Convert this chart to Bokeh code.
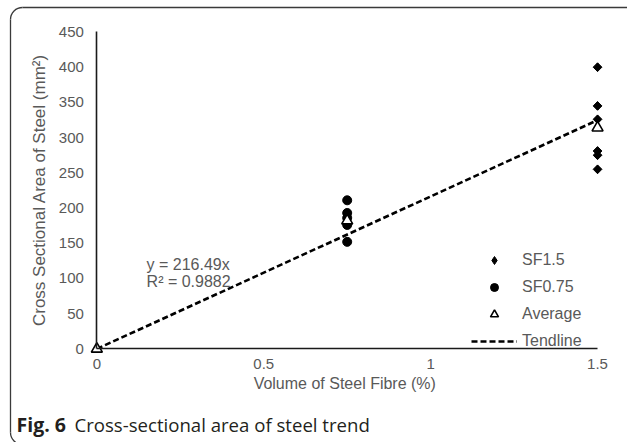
import math
from bokeh.plotting import figure
from bokeh.models import (Range1d, FixedTicker, Legend, LegendItem, Label,
                          ColumnDataSource)
from bokeh.embed import file_html
from bokeh.resources import INLINE

# ---- data ----
sf15_x = [1.5, 1.5, 1.5, 1.5, 1.5, 1.5]
sf15_y = [400, 345, 326, 281, 275, 255]
sf075_x = [0.75, 0.75, 0.75, 0.75, 0.75]
sf075_y = [211, 193, 186, 176, 152]
avg_x = [0, 0.75, 1.5]
avg_y = [0, 182, 314]
slope = 216.49
r2 = 0.9882
trend_x = [0, 1.5]
x_ticks = [0, 0.5, 1, 1.5]
y_ticks = [0, 50, 100, 150, 200, 250, 300, 350, 400, 450]

GREY = "#595959"
FONT = "Liberation Sans"

W, H = 627, 442
PXX = 333.8      # px per x unit
PXY = 0.7043     # px per y unit
X0, Y0 = 96.35, 348.4   # canvas position of the origin


def cx(px):
    return (px - X0) / PXX


def cy(py):
    return (Y0 - py) / PXY


p = figure(width=W, height=H, output_backend="svg", toolbar_location=None,
           x_range=Range1d(cx(0), cx(W)), y_range=Range1d(cy(H), cy(0)),
           min_border=0)
p.outline_line_color = None
p.xgrid.visible = False
p.ygrid.visible = False
p.background_fill_color = "white"
p.border_fill_color = "white"

# rounded frame around the figure: only its left and top edges are on the page
FR_L, FR_T, FR_B, FR_R, RAD = 10, 7, 444, 640, 12
frame_style = dict(line_color="#3a3a3a", line_width=1.3)
p.segment(x0=[cx(FR_L), cx(FR_L + RAD)], y0=[cy(FR_T + RAD), cy(FR_T)],
          x1=[cx(FR_L), cx(FR_R)], y1=[cy(FR_B - RAD), cy(FR_T)],
          **frame_style)
p.arc(x=[cx(FR_L + RAD), cx(FR_L + RAD)], y=[cy(FR_T + RAD), cy(FR_B - RAD)],
      radius=RAD, radius_units="screen",
      start_angle=[math.pi / 2, math.pi], end_angle=[math.pi, 1.5 * math.pi],
      **frame_style)

xa, ya = p.xaxis[0], p.yaxis[0]
for ax in (xa, ya):
    ax.fixed_location = 0
    ax.axis_line_color = "#1a1a1a"
    ax.axis_line_width = 1.6
    ax.major_tick_line_color = None
    ax.minor_tick_line_color = None
    ax.major_tick_out = 0
    ax.major_tick_in = 0
    ax.major_label_text_color = GREY
    ax.major_label_text_font = FONT
    ax.major_label_text_font_size = "15px"
    ax.axis_label_text_color = GREY
    ax.axis_label_text_font = FONT
    ax.axis_label_text_font_style = "normal"

xa.ticker = FixedTicker(ticks=x_ticks)
ya.ticker = FixedTicker(ticks=y_ticks)
xa.bounds = (x_ticks[0], x_ticks[-1])
ya.bounds = (y_ticks[0], y_ticks[-1])
xa.major_label_standoff = 10
ya.major_label_standoff = 13
xa.axis_label = "Volume  of Steel Fibre (%)"
ya.axis_label = "Cross Sectional Area of Steel (mm²)"
xa.axis_label_text_font_size = "16px"
ya.axis_label_text_font_size = "17px"
xa.axis_label_standoff = 3
ya.axis_label_standoff = 6

trend_src = ColumnDataSource(dict(x=trend_x, y=[slope * v for v in trend_x]))
r_trend = p.line("x", "y", source=trend_src, line_color="black",
                 line_width=2.6, line_dash="6 3")
# legend swatch for SF1.5 (legend swatches are never rotated); hidden
# underneath the rotated squares in the plot itself
r15_key = p.scatter(sf15_x, sf15_y, marker="diamond", size=8,
                    fill_color="black", line_color="black")
r15 = p.scatter(sf15_x, sf15_y, marker="square", size=6.2, angle=math.pi / 4,
                fill_color="black", line_color="black")
r075 = p.scatter(sf075_x, sf075_y, marker="circle", size=9,
                 fill_color="black", line_color="black")
ravg = p.scatter(avg_x, avg_y, marker="triangle", size=11,
                 fill_color="white", line_color="black", line_width=1.6)

legend = Legend(items=[LegendItem(label="SF1.5", renderers=[r15_key]),
                       LegendItem(label="SF0.75", renderers=[r075]),
                       LegendItem(label="Average", renderers=[ravg]),
                       LegendItem(label="Tendline", renderers=[r_trend])],
                location=(471, 91), padding=0, margin=0, spacing=7,
                glyph_width=46, glyph_height=20, label_height=20,
                label_standoff=5,
                label_text_font=FONT, label_text_font_size="16px",
                label_text_color=GREY,
                border_line_color=None, background_fill_alpha=0)
p.add_layout(legend, "center")

p.add_layout(Label(x=0.149, y=120, text=f"y = {slope}x", text_font=FONT,
                   text_font_size="16px", text_color=GREY,
                   text_baseline="middle"))
p.add_layout(Label(x=0.149, y=96, text=f"R² = {r2}", text_font=FONT,
                   text_font_size="16px", text_color=GREY,
                   text_baseline="middle"))

# caption
p.add_layout(Label(x=16, y=424, x_units="canvas", y_units="canvas",
                   text="Fig. 6", text_font="Open Sans", text_font_style="bold",
                   text_font_size="19.5px", text_color="#231f20",
                   text_baseline="middle"))
p.add_layout(Label(x=74, y=424, x_units="canvas", y_units="canvas",
                   text="Cross-sectional area of steel trend",
                   text_font="Open Sans", text_font_size="18.6px",
                   text_color="#231f20", text_baseline="middle"))

open("out.html", "w").write(file_html(p, INLINE))
